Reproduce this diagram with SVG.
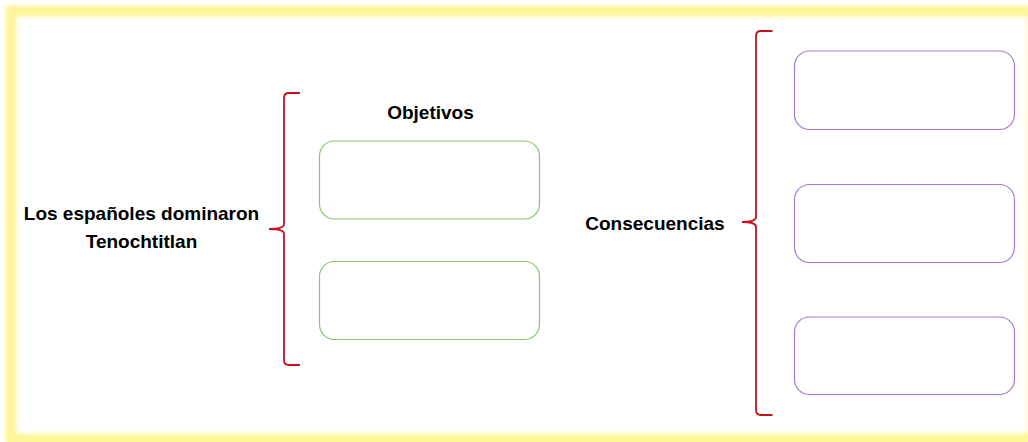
<svg xmlns="http://www.w3.org/2000/svg" width="1028" height="442" viewBox="0 0 1028 442">
  <defs>
    <filter id="glow" x="-5%" y="-5%" width="110%" height="110%">
      <feGaussianBlur stdDeviation="2.5"/>
    </filter>
  </defs>
  <style>
    .lbl { font-family: "Liberation Sans", Arial, sans-serif; font-weight: bold; font-size: 19px; fill: #000; text-anchor: middle; }
    .green { fill: #fff; stroke: #8cc46c; stroke-width: 1.2; }
    .purple { fill: #fff; stroke: #a57bd6; stroke-width: 1.2; }
    .brace { fill: none; stroke: #c8101e; stroke-width: 1.8; }
  </style>
  <rect x="0" y="0" width="1028" height="442" fill="#fff"/>
  <g id="frame">
    <rect x="11" y="11" width="1022" height="428" fill="none" stroke="#fff27a" stroke-width="9" filter="url(#glow)"/>
    <rect x="11" y="11" width="1022" height="428" fill="none" stroke="#fff59a" stroke-width="6"/>
  </g>
  <g id="title">
    <text class="lbl" x="141.5" y="220">Los españoles dominaron</text>
    <text class="lbl" x="141.5" y="248">Tenochtitlan</text>
  </g>
  <g id="objetivos-label">
    <text class="lbl" x="430.5" y="119">Objetivos</text>
  </g>
  <g id="objetivo-1"><rect class="green" x="319.5" y="141" width="220" height="78" rx="15"/></g>
  <g id="objetivo-2"><rect class="green" x="319.5" y="261.5" width="220" height="78" rx="15"/></g>
  <g id="consecuencias-label">
    <text class="lbl" x="655" y="230">Consecuencias</text>
  </g>
  <g id="consecuencia-1"><rect class="purple" x="794.5" y="51" width="220" height="78.5" rx="15"/></g>
  <g id="consecuencia-2"><rect class="purple" x="794.5" y="184.5" width="220" height="78" rx="15"/></g>
  <g id="consecuencia-3"><rect class="purple" x="794.5" y="317" width="220" height="77.5" rx="15"/></g>
  <g id="connectors">
    <path class="brace" d="M300,93 L289,93 Q284,93 284,98 L284,224 Q284,229 269,229 Q284,229 284,234 L284,360 Q284,365 289,365 L300,365"/>
    <path class="brace" d="M772.5,31 L761,31 Q756,31 756,36 L756,217 Q756,222 742,222 Q756,222 756,227 L756,410 Q756,415 761,415 L772.5,415"/>
  </g>
</svg>
